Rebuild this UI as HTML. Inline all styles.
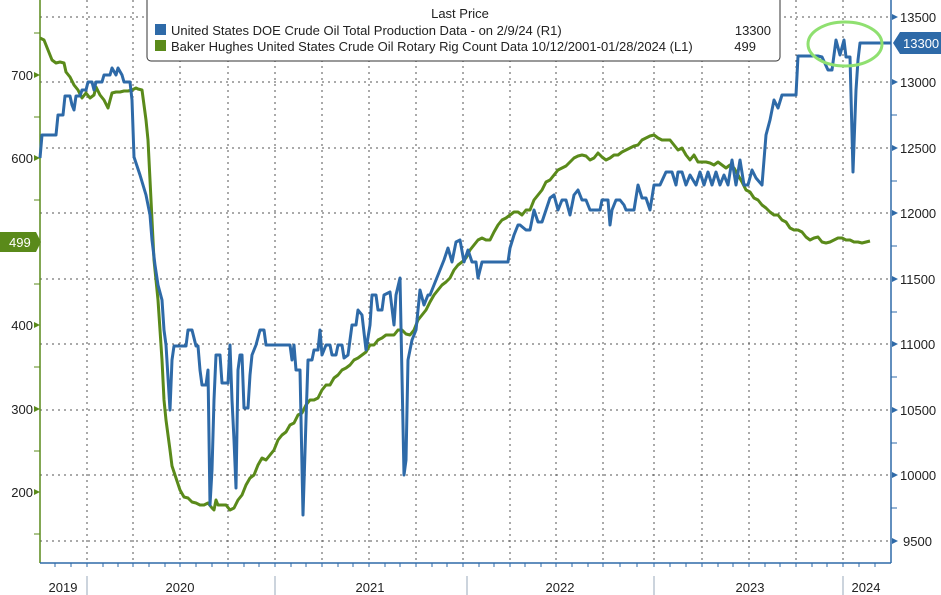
<!DOCTYPE html>
<html><head><meta charset="utf-8"><style>
html,body{margin:0;padding:0;background:#fff;}
svg{display:block;font-family:"Liberation Sans",sans-serif;}
</style></head><body>
<svg width="941" height="595" viewBox="0 0 941 595" xmlns="http://www.w3.org/2000/svg">
<rect width="941" height="595" fill="#fff"/>
<g stroke="#555" stroke-width="1" stroke-dasharray="2,4">
<line x1="40" x2="891" y1="17" y2="17"/><line x1="40" x2="891" y1="82" y2="82"/><line x1="40" x2="891" y1="148" y2="148"/><line x1="40" x2="891" y1="213" y2="213"/><line x1="40" x2="891" y1="279" y2="279"/><line x1="40" x2="891" y1="344" y2="344"/><line x1="40" x2="891" y1="410" y2="410"/><line x1="40" x2="891" y1="475" y2="475"/><line x1="40" x2="891" y1="541" y2="541"/>
<line y1="0" y2="563" x1="87" x2="87"/><line y1="0" y2="563" x1="133" x2="133"/><line y1="0" y2="563" x1="180" x2="180"/><line y1="0" y2="563" x1="228" x2="228"/><line y1="0" y2="563" x1="275" x2="275"/><line y1="0" y2="563" x1="322" x2="322"/><line y1="0" y2="563" x1="369" x2="369"/><line y1="0" y2="563" x1="416" x2="416"/><line y1="0" y2="563" x1="463" x2="463"/><line y1="0" y2="563" x1="510" x2="510"/><line y1="0" y2="563" x1="556" x2="556"/><line y1="0" y2="563" x1="603" x2="603"/><line y1="0" y2="563" x1="654" x2="654"/><line y1="0" y2="563" x1="702" x2="702"/><line y1="0" y2="563" x1="749" x2="749"/><line y1="0" y2="563" x1="796" x2="796"/><line y1="0" y2="563" x1="843" x2="843"/>
</g>
<!-- axes -->
<line x1="40" y1="0" x2="40" y2="563" stroke="#5a8a1a" stroke-width="1.5"/>
<line x1="891" y1="0" x2="891" y2="563" stroke="#2e6aa8" stroke-width="1.5"/>
<line x1="40" y1="563" x2="891" y2="563" stroke="#2e6aa8" stroke-width="1.5"/>
<g stroke="#5a8a1a"><line x1="34" x2="40" y1="33" y2="33"/><line x1="34" x2="40" y1="117" y2="117"/><line x1="34" x2="40" y1="200" y2="200"/><line x1="34" x2="40" y1="284" y2="284"/><line x1="34" x2="40" y1="367" y2="367"/><line x1="34" x2="40" y1="451" y2="451"/><line x1="34" x2="40" y1="534" y2="534"/></g>
<g fill="#5a8a1a"><path d="M34,72 L40,75 L34,78Z"/><path d="M34,155 L40,158 L34,161Z"/><path d="M34,322 L40,325 L34,328Z"/><path d="M34,406 L40,409 L34,412Z"/><path d="M34,489 L40,492 L34,495Z"/></g>
<g font-size="13" fill="#222" text-anchor="end"><text x="33" y="80">700</text><text x="33" y="163">600</text><text x="33" y="330">400</text><text x="33" y="414">300</text><text x="33" y="497">200</text></g>
<g stroke="#2e6aa8"><line x1="891" x2="897" y1="115" y2="115"/><line x1="891" x2="897" y1="181" y2="181"/><line x1="891" x2="897" y1="246" y2="246"/><line x1="891" x2="897" y1="312" y2="312"/><line x1="891" x2="897" y1="377" y2="377"/><line x1="891" x2="897" y1="443" y2="443"/><line x1="891" x2="897" y1="508" y2="508"/></g>
<g fill="#2e6aa8"><path d="M892,14 L898,17 L892,20Z"/><path d="M892,79 L898,82 L892,85Z"/><path d="M892,145 L898,148 L892,151Z"/><path d="M892,210 L898,213 L892,216Z"/><path d="M892,276 L898,279 L892,282Z"/><path d="M892,341 L898,344 L892,347Z"/><path d="M892,407 L898,410 L892,413Z"/><path d="M892,472 L898,475 L892,478Z"/><path d="M892,538 L898,541 L892,544Z"/></g>
<g font-size="13" fill="#222"><text x="900" y="22">13500</text><text x="900" y="87">13000</text><text x="900" y="153">12500</text><text x="900" y="218">12000</text><text x="900" y="284">11500</text><text x="900" y="349">11000</text><text x="900" y="415">10500</text><text x="900" y="480">10000</text><text x="903" y="546">9500</text></g>
<!-- x ticks -->
<g stroke="#2e6aa8"><path d="M55,563v4M71,563v4M87,563v4M103,563v4M118,563v4M133,563v4M149,563v4M165,563v4M180,563v4M196,563v4M212,563v4M228,563v4M244,563v4M259,563v4M275,563v4M291,563v4M306,563v4M322,563v4M338,563v4M353,563v4M369,563v4M385,563v4M400,563v4M416,563v4M432,563v4M447,563v4M463,563v4M479,563v4M494,563v4M510,563v4M525,563v4M541,563v4M556,563v4M572,563v4M588,563v4M603,563v4M620,563v4M637,563v4M654,563v4M670,563v4M686,563v4M702,563v4M718,563v4M733,563v4M749,563v4M765,563v4M780,563v4M796,563v4M812,563v4M827,563v4M843,563v4M859,563v4M875,563v4"/></g>
<g stroke="#9ab" stroke-width="1"><line x1="87" x2="87" y1="576" y2="595"/><line x1="275" x2="275" y1="576" y2="595"/><line x1="467" x2="467" y1="576" y2="595"/><line x1="654" x2="654" y1="576" y2="595"/><line x1="843" x2="843" y1="576" y2="595"/></g>
<g font-size="13" fill="#222" text-anchor="middle"><text x="63" y="592">2019</text><text x="180" y="592">2020</text><text x="370" y="592">2021</text><text x="560" y="592">2022</text><text x="750" y="592">2023</text><text x="866" y="592">2024</text></g>
<!-- green series -->
<polyline fill="none" stroke="#5a8a1a" stroke-width="3" stroke-linejoin="round" points="40,38 44,40 48,50 52,60 56,63 60,62 64,63 66,72 70,77 74,85 78,90 82,98 86,93 90,98 94,95 96,87 100,95 104,100 108,108 112,93 116,92 120,92 124,91 128,91 132,90 136,88 138,89 142,90 146,120 148,140 150,180 152,220 154,260 156,280 158,300 160,330 162,360 164,400 166,420 170,450 172,466 176,478 180,490 184,497 188,498 192,502 196,503 200,505 204,505 208,503 212,508 214,510 216,500 218,505 222,505 226,505 230,510 234,508 238,500 242,495 246,485 250,478 254,475 258,465 262,458 266,460 270,455 274,450 278,440 282,435 286,432 290,425 294,423 298,415 302,413 306,405 310,400 314,400 318,398 322,390 326,385 330,385 334,378 338,375 342,370 346,368 350,365 354,360 358,358 362,355 366,352 370,345 374,345 378,340 382,338 386,335 390,335 394,335 398,330 402,330 406,334 410,335 414,330 418,320 422,315 426,310 430,302 434,295 438,290 442,285 446,282 450,278 454,270 458,265 462,262 466,258 470,250 474,245 478,240 482,238 486,240 490,240 494,232 498,225 502,220 506,218 510,215 514,212 518,212 522,215 526,210 530,210 534,200 538,195 542,190 546,182 550,180 554,175 558,170 562,168 566,166 570,162 574,158 578,156 582,155 586,156 590,160 594,158 598,153 602,157 606,160 610,158 614,155 618,155 622,152 626,150 630,148 634,146 638,145 642,140 646,138 650,136 654,135 658,138 662,140 666,140 670,140 674,145 678,150 682,148 686,155 690,160 694,155 698,162 702,162 706,162 710,163 714,165 718,162 722,165 726,168 730,165 734,168 738,175 742,182 746,190 750,192 754,198 758,200 762,205 766,208 770,212 774,215 778,215 782,220 786,222 790,228 794,230 798,230 802,232 806,237 810,240 814,238 818,237 822,242 826,243 830,242 834,240 838,238 842,238 846,240 850,240 854,242 858,242 862,243 866,242 870,241"/>
<!-- blue series -->
<polyline fill="none" stroke="#2e6aa8" stroke-width="3" stroke-linejoin="round" points="40,158 42,135 56,135 58,115 63,115 65,96 70,96 72,105 74,110 76,96 80,96 82,90 86,90 88,82 92,82 94,90 96,82 102,82 104,75 110,75 112,68 116,75 118,68 122,75 124,82 130,82 132,100 134,157 140,175 146,195 150,215 152,240 155,265 158,285 162,300 164,330 166,345 170,410 172,360 174,346 186,346 188,330 192,330 196,346 198,346 200,370 202,385 206,385 208,370 210,505 212,470 214,400 216,355 220,355 222,383 228,383 230,345 232,400 234,440 236,488 238,370 240,355 242,355 244,408 248,408 250,375 252,355 256,345 260,330 264,330 266,345 290,345 292,360 294,345 296,370 300,370 303,515 306,420 308,360 312,360 314,350 318,350 320,330 322,355 326,345 330,345 332,355 336,355 338,345 342,345 344,358 348,355 352,325 356,325 358,310 362,315 366,350 370,325 372,295 376,295 378,310 382,310 384,295 390,292 394,325 396,295 400,278 404,475 406,460 408,360 412,340 416,330 420,290 424,305 428,295 430,295 436,280 440,270 444,260 448,248 452,262 456,242 460,240 464,262 468,250 472,262 476,262 478,278 482,262 508,262 510,248 514,235 518,225 520,225 526,230 530,230 534,210 538,222 542,222 546,210 550,198 554,195 558,210 562,200 566,200 570,215 574,195 578,190 582,200 586,200 590,210 600,210 602,200 608,200 610,225 612,210 616,200 620,200 624,205 626,210 634,210 638,185 642,198 646,198 650,210 654,185 660,185 666,172 672,172 676,185 678,172 682,172 686,185 690,175 696,185 700,172 704,185 708,172 712,185 716,172 720,185 724,175 728,185 732,160 736,185 740,160 744,185 748,185 752,170 756,178 762,185 766,135 770,120 774,100 778,108 782,95 796,95 798,56 818,56 822,57 828,70 832,70 836,40 840,55 844,40 846,57 850,57 853,172 856,90 858,60 860,43 891,43"/>
<ellipse cx="845" cy="44" rx="37" ry="22" fill="none" stroke="#8fe070" stroke-width="3"/>
<!-- value labels -->
<path d="M0,232 H36 L41,242 L36,252 H0Z" fill="#5a8a1a"/>
<text x="9" y="247" font-size="13" fill="#fff">499</text>
<path d="M893,43 L900,32 H941 V54 H900Z" fill="#2e6aa8"/>
<text x="903" y="48" font-size="13" fill="#fff">13300</text>
<!-- legend -->
<rect x="147" y="-6" width="633" height="67" rx="4" fill="#fff" stroke="#333" stroke-width="1"/>
<text x="460" y="18" font-size="13" fill="#222" text-anchor="middle">Last Price</text>
<rect x="155" y="24" width="11" height="11" fill="#2e6aa8"/>
<rect x="155" y="40" width="11" height="11" fill="#5a8a1a"/>
<g font-size="13" fill="#222"><text x="171" y="35">United States DOE Crude Oil Total Production Data -  on 2/9/24  (R1)</text><text x="171" y="51">Baker Hughes United States Crude Oil Rotary Rig Count Data 10/12/2001-01/28/2024  (L1)</text></g>
<text x="771" y="35" font-size="13" fill="#222" text-anchor="end">13300</text>
<text x="756" y="51" font-size="13" fill="#222" text-anchor="end">499</text>
</svg>
</body></html>
